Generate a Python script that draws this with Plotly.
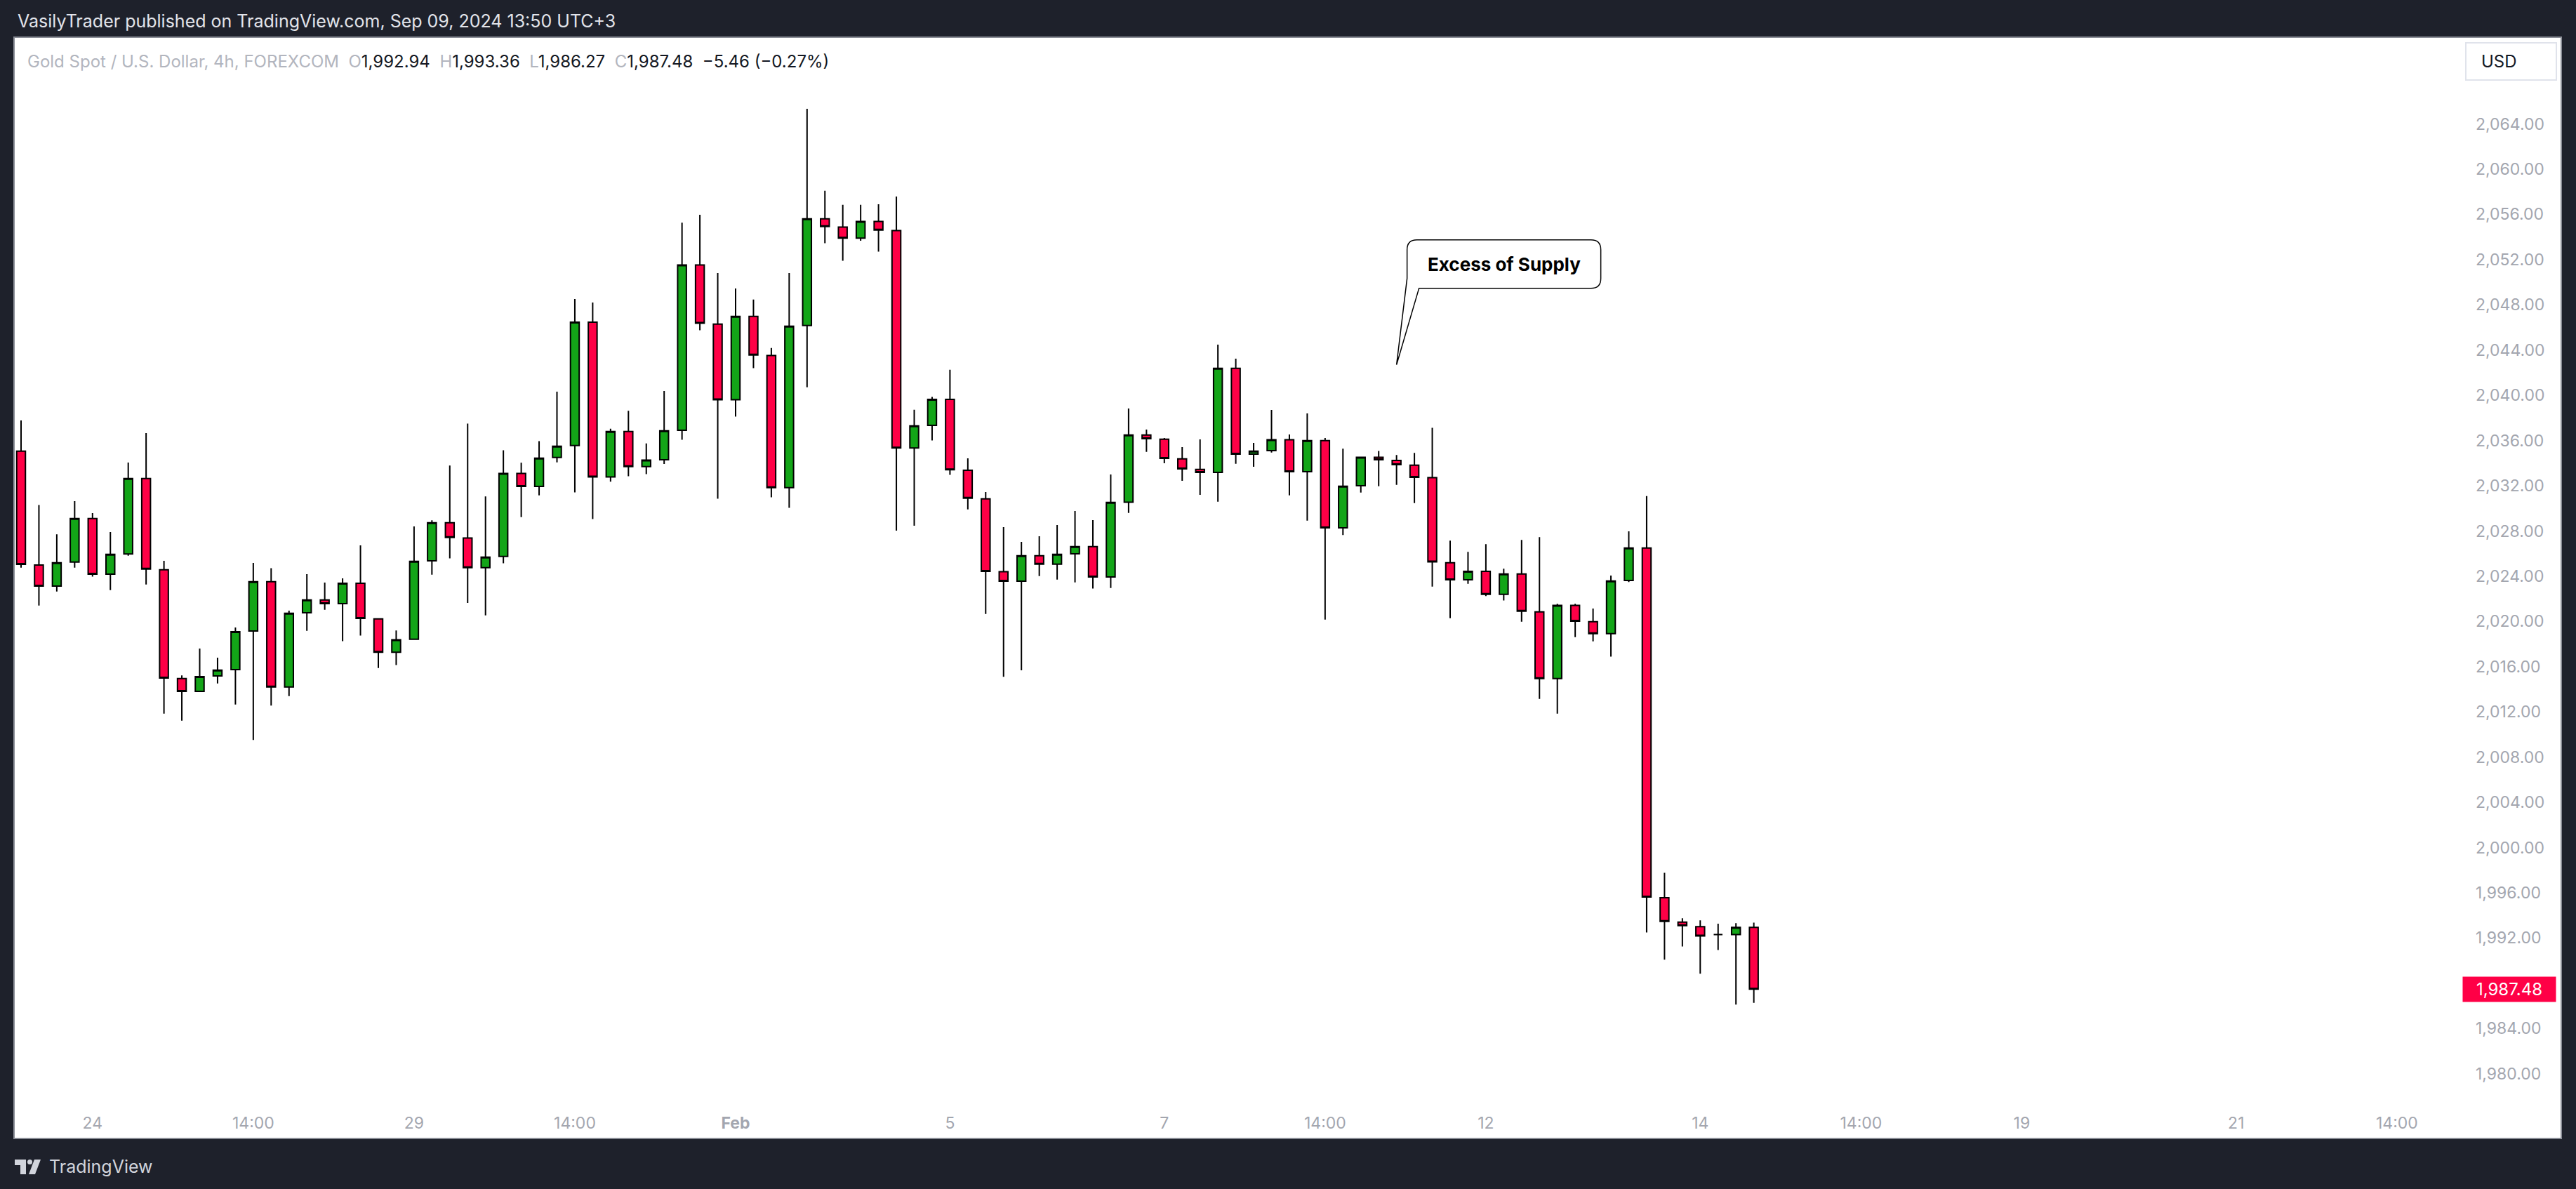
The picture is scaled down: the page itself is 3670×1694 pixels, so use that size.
import plotly.graph_objects as go
import pandas as pd

# ---------------- data (XAUUSD 4h, FOREXCOM) ----------------
OPEN = [2035.06, 2024.98, 2023.12, 2025.25, 2029.10, 2024.18, 2025.96, 2032.64, 2024.57, 2014.95,
        2013.81, 2015.18, 2015.74, 2019.15, 2023.51, 2014.20, 2020.76, 2021.90, 2021.58, 2023.38,
        2020.23, 2017.28, 2018.42, 2025.36, 2028.73, 2027.37, 2024.76, 2025.74, 2033.08, 2031.94,
        2034.50, 2035.55, 2046.47, 2032.77, 2036.80, 2033.69, 2034.30, 2036.91, 2051.52, 2046.29,
        2039.60, 2046.98, 2043.51, 2031.83, 2046.17, 2055.60, 2054.87, 2053.89, 2055.37, 2054.56,
        2035.34, 2037.34, 2039.64, 2033.37, 2030.84, 2024.39, 2023.56, 2025.81, 2025.07, 2025.98,
        2026.62, 2023.93, 2030.55, 2036.49, 2036.12, 2034.38, 2033.45, 2033.18, 2042.39, 2034.79,
        2035.10, 2036.06, 2033.24, 2035.99, 2028.28, 2032.00, 2034.51, 2034.24, 2033.82, 2032.71,
        2025.19, 2023.68, 2024.43, 2022.40, 2024.20, 2020.85, 2014.95, 2021.41, 2019.98, 2018.92,
        2023.62, 2026.50, 1995.57, 1993.41, 1993.01, 1992.30, 1992.30, 1992.94]
HIGH = [2037.77, 2030.30, 2027.71, 2030.63, 2029.58, 2027.90, 2034.05, 2036.65, 2025.36, 2015.22,
        2017.60, 2016.79, 2019.46, 2025.17, 2024.71, 2020.95, 2024.18, 2023.43, 2023.81, 2026.73,
        2020.23, 2019.20, 2028.40, 2028.94, 2033.79, 2037.49, 2031.06, 2035.14, 2034.03, 2035.95,
        2040.32, 2048.51, 2048.21, 2037.04, 2038.63, 2035.74, 2040.38, 2055.27, 2055.96, 2050.81,
        2049.45, 2048.46, 2044.18, 2050.81, 2065.34, 2058.08, 2056.84, 2056.84, 2056.89, 2057.58,
        2038.72, 2039.86, 2042.26, 2034.42, 2031.44, 2028.34, 2027.03, 2027.53, 2028.52, 2029.77,
        2028.96, 2032.99, 2038.83, 2036.97, 2036.22, 2035.41, 2036.10, 2044.48, 2043.23, 2035.79,
        2038.70, 2036.53, 2038.39, 2036.22, 2035.27, 2034.51, 2035.08, 2034.71, 2034.90, 2037.13,
        2027.14, 2026.15, 2026.83, 2024.66, 2027.20, 2027.45, 2021.55, 2021.55, 2021.14, 2024.06,
        2027.97, 2031.08, 1997.77, 1993.75, 1993.57, 1993.26, 1993.32, 1993.36]
LOW = [2024.76, 2021.40, 2022.65, 2024.76, 2023.97, 2022.77, 2025.81, 2023.27, 2011.84, 2011.22,
       2013.81, 2014.51, 2012.65, 2009.51, 2012.55, 2013.40, 2019.17, 2021.03, 2018.25, 2018.75,
       2015.88, 2016.14, 2018.42, 2024.14, 2025.57, 2021.63, 2020.53, 2025.14, 2029.23, 2031.15,
       2034.07, 2031.41, 2029.06, 2032.36, 2032.84, 2033.03, 2033.92, 2036.06, 2045.75, 2030.85,
       2038.12, 2042.40, 2030.97, 2030.05, 2040.71, 2053.44, 2051.90, 2053.66, 2052.71, 2028.03,
       2028.47, 2036.01, 2032.97, 2029.90, 2020.66, 2015.10, 2015.67, 2024.01, 2023.70, 2023.45,
       2022.90, 2022.96, 2029.60, 2035.00, 2033.99, 2032.43, 2031.19, 2030.59, 2033.94, 2033.68,
       2034.94, 2031.15, 2028.92, 2020.16, 2027.64, 2031.40, 2031.96, 2032.08, 2030.47, 2023.08,
       2020.29, 2023.33, 2022.24, 2021.86, 2019.98, 2013.15, 2011.85, 2018.61, 2018.24, 2016.88,
       2023.48, 1992.49, 1990.08, 1991.25, 1988.84, 1990.94, 1986.12, 1986.27]
CLOSE = [2025.05, 2023.12, 2025.19, 2029.10, 2024.18, 2025.94, 2032.64, 2024.63, 2014.99, 2013.81,
         2015.11, 2015.69, 2019.09, 2023.51, 2014.20, 2020.72, 2021.90, 2021.57, 2023.38, 2020.27,
         2017.28, 2018.37, 2025.31, 2028.73, 2027.42, 2024.76, 2025.69, 2033.08, 2031.94, 2034.43,
         2035.50, 2046.47, 2032.77, 2036.80, 2033.69, 2034.26, 2036.86, 2051.52, 2046.37, 2039.60,
         2046.98, 2043.56, 2031.83, 2046.10, 2055.60, 2054.92, 2053.89, 2055.37, 2054.61, 2035.34,
         2037.29, 2039.64, 2033.42, 2030.90, 2024.43, 2023.56, 2025.81, 2025.07, 2025.94, 2026.62,
         2023.93, 2030.53, 2036.49, 2036.16, 2034.42, 2033.49, 2033.18, 2042.39, 2034.79, 2035.06,
         2036.06, 2033.24, 2035.99, 2028.28, 2031.96, 2034.51, 2034.30, 2033.87, 2032.75, 2025.26,
         2023.68, 2024.43, 2022.40, 2024.20, 2020.91, 2014.95, 2021.41, 2020.02, 2018.92, 2023.58,
         2026.50, 1995.63, 1993.47, 1993.10, 1992.18, 1992.30, 1992.94, 1987.48]

FIRST_CANDLE = "2024-01-23 10:00"
SESSION_HOURS = [2, 6, 10, 14, 18, 22]
TICK_TIMES = ["2024-01-24 02:00", "2024-01-25 14:00", "2024-01-29 02:00", "2024-01-30 14:00",
              "2024-02-01 02:00", "2024-02-05 02:00", "2024-02-07 02:00", "2024-02-08 14:00",
              "2024-02-12 02:00", "2024-02-14 02:00", "2024-02-15 14:00", "2024-02-19 02:00",
              "2024-02-21 02:00", "2024-02-22 14:00"]
TICK_TEXT = ["24", "14:00", "29", "14:00", "<b>Feb</b>", "5", "7", "14:00", "12", "14", "14:00",
             "19", "21", "14:00"]
# (1,988.00 sits under the last-price label in the reference, so it is not labelled)
PRICE_TICKS = [1980, 1984, 1992, 1996, 2000, 2004, 2008, 2012, 2016, 2020, 2024, 2028,
               2032, 2036, 2040, 2044, 2048, 2052, 2056, 2060, 2064]
CALLOUT_TIME = "2024-02-09 06:00"
CALLOUT_PRICE = 2042.7
CALLOUT_TEXT = "Excess of Supply"
SYMBOL = "Gold Spot / U.S. Dollar, 4h, FOREXCOM"
HEADER = "VasilyTrader published on TradingView.com, Sep 09, 2024 13:50 UTC+3"

# ---------------- time slots (bar index axis, weekends skipped) ----------------
days = pd.bdate_range("2024-01-23", "2024-02-29")
slots = [d + pd.Timedelta(hours=h) for d in days for h in SESSION_HOURS]
slots = slots[slots.index(pd.Timestamp(FIRST_CANDLE)):]
pos = {t: i for i, t in enumerate(slots)}
X = [pos[slots[i]] for i in range(len(OPEN))]
tickvals = [pos[pd.Timestamp(t)] for t in TICK_TIMES]

# ---------------- style ----------------
W, H = 3670, 1694
BG = "#1e212b"
RED = "#FF0046"
GREEN = "#13A518"
GRAY = "#a3a6af"
FONT = "Inter"
PL, PR, PT, PB = 20, 3505, 53, 1570          # plot area (px)
PANEL = (20, 53, 3649, 1622)                  # white panel (px)


def px(x):
    """figure pixel -> plot-domain ('paper') fraction"""
    return (x - PL) / (PR - PL)


def py(y):
    return (PB - y) / (PB - PT)


fig = go.Figure()
fig.add_trace(go.Candlestick(
    x=X, open=OPEN, high=HIGH, low=LOW, close=CLOSE,
    increasing=dict(fillcolor=GREEN, line=dict(color="#000000", width=2)),
    decreasing=dict(fillcolor=RED, line=dict(color="#000000", width=2)),
    whiskerwidth=0, hoverinfo="skip", showlegend=False,
))

spacing = 25.45  # px per bar
x_lo = -10 / spacing
x_hi = x_lo + (PR - PL) / spacing
ppu = 16.11
y_hi = 2064 + (176.5 - PT) / ppu
y_lo = y_hi - (PB - PT) / ppu

shapes = [
    dict(type="rect", xref="paper", yref="paper", x0=px(PANEL[0]), x1=px(PANEL[2]),
         y0=py(PANEL[3]), y1=py(PANEL[1]), fillcolor="#ffffff",
         line=dict(color="#8a8d96", width=2), layer="below"),
    # USD box
    dict(type="rect", xref="paper", yref="paper", x0=px(3513), x1=px(3642),
         y0=py(114), y1=py(61), fillcolor="#ffffff", line=dict(color="#e0e3eb", width=2)),
    # callout bubble
    dict(type="path", xref="x", yref="y", xsizemode="pixel", ysizemode="pixel",
         xanchor=pos[pd.Timestamp(CALLOUT_TIME)], yanchor=CALLOUT_PRICE,
         path="M0,0 L15,123 L15,164 Q15,178 29,178 L277,178 Q291,178 291,164 "
              "L291,123 Q291,109 277,109 L32,109 Z",
         fillcolor="#ffffff", line=dict(color="#000000", width=1.5)),
    # TradingView logo
    dict(type="path", xref="paper", yref="paper",
         path=f"M{px(21)},{py(1652)} L{px(37)},{py(1652)} L{px(37)},{py(1673)} "
              f"L{px(29)},{py(1673)} L{px(29)},{py(1660)} L{px(21)},{py(1660)} Z",
         fillcolor="#d1d4dc", line=dict(width=0)),
    dict(type="circle", xref="paper", yref="paper", x0=px(39), x1=px(46),
         y0=py(1659), y1=py(1652), fillcolor="#d1d4dc", line=dict(width=0)),
    dict(type="path", xref="paper", yref="paper",
         path=f"M{px(49)},{py(1652)} L{px(58)},{py(1652)} L{px(50)},{py(1673)} "
              f"L{px(41)},{py(1673)} Z",
         fillcolor="#d1d4dc", line=dict(width=0)),
]

chg = CLOSE[-1] - CLOSE[-2]
pct = chg / CLOSE[-2] * 100
sp = "\u00a0\u00a0"
g = lambda s: f"<span style='color:#b2b5be'>{s}</span>"
k = lambda s: f"<span style='color:#131722'>{s}</span>"
legend_txt = (g(SYMBOL) + sp + g("O") + k(f"{OPEN[-1]:,.2f}") + sp + g("H") + k(f"{HIGH[-1]:,.2f}")
              + sp + g("L") + k(f"{LOW[-1]:,.2f}") + sp + g("C") + k(f"{CLOSE[-1]:,.2f}") + sp
              + k(f"{chg:+.2f} ({pct:+.2f}%)".replace("-", "\u2212")))

annotations = [
    dict(xref="paper", yref="paper", x=px(23), y=py(30), xanchor="left", yanchor="middle",
         text=HEADER, showarrow=False, font=dict(family=FONT, size=25, color="#e2e4ea")),
    dict(xref="paper", yref="paper", x=px(37), y=py(88), xanchor="left", yanchor="middle",
         text=legend_txt, showarrow=False, font=dict(family=FONT, size=24)),
    dict(xref="paper", yref="paper", x=px(3533), y=py(88), xanchor="left", yanchor="middle",
         text="USD", showarrow=False, font=dict(family=FONT, size=24, color="#131722")),
    dict(xref="paper", yref="y", x=px(3508), y=CLOSE[-1], xanchor="left", yanchor="middle",
         text=f"{CLOSE[-1]:,.2f}", showarrow=False, bgcolor=RED, borderpad=3, width=126,
         align="center", font=dict(family=FONT, size=24, color="#ffffff")),
    dict(xref="x", yref="y", x=pos[pd.Timestamp(CALLOUT_TIME)], y=CALLOUT_PRICE,
         xshift=153, yshift=143, text=f"<b>{CALLOUT_TEXT}</b>", showarrow=False,
         font=dict(family=FONT, size=26, color="#000000")),
    dict(xref="paper", yref="paper", x=px(68), y=py(1662), xanchor="left", yanchor="middle",
         text="TradingView", showarrow=False, font=dict(family=FONT, size=25, color="#d1d4dc")),
]

fig.update_layout(
    width=W, height=H, autosize=False,
    paper_bgcolor=BG, plot_bgcolor="#ffffff",
    margin=dict(l=PL, r=W - PR, t=PT, b=H - PB, pad=0),
    shapes=shapes, annotations=annotations, showlegend=False,
    xaxis=dict(range=[x_lo, x_hi], tickmode="array", tickvals=tickvals, ticktext=TICK_TEXT,
               showgrid=False, zeroline=False, showline=False, ticks="",
               ticklabelstandoff=14, rangeslider=dict(visible=False),
               tickfont=dict(family=FONT, size=23, color=GRAY), fixedrange=True),
    yaxis=dict(range=[y_lo, y_hi], side="right", tickmode="array", tickvals=PRICE_TICKS,
               tickformat=",.2f", showgrid=False, zeroline=False, showline=False, ticks="",
               ticklabelstandoff=21, tickfont=dict(family=FONT, size=23, color=GRAY),
               fixedrange=True),
)

fig.write_html("out.html", config={"displayModeBar": False},
               post_script="document.body.style.margin='0';document.body.style.overflow='hidden';")
